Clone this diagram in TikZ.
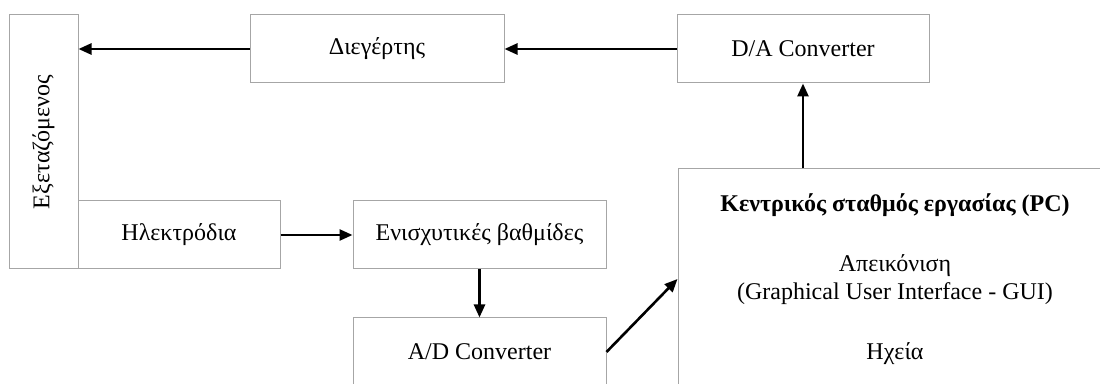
\documentclass[tikz,border=0pt]{standalone}
\usepackage{fontspec}
\setmainfont{Liberation Serif}
\usetikzlibrary{arrows.meta}

\begin{document}
\begin{tikzpicture}[x=0.5pt, y=-0.5pt, font=\fontsize{12}{14}\selectfont,
    block/.style={draw=gray!70, line width=0.5pt, align=center, inner sep=0pt, minimum height=34pt, minimum width=126.5pt},
    flow/.style={line width=1.3pt, -{Triangle[length=6.5pt, width=5.5pt]}}]
      \clip (0,0) rectangle (1100,384);

      \node[block, minimum width=34.5pt, minimum height=127pt] (E)   at ( 43.5, 142) {\rotatebox{90}{Εξεταζόμενος}};
      \node[block, minimum width=101pt]                         (H)   at (179,   235) {Ηλεκτρόδια};
      \node[block, minimum width=127pt]                         (X)   at (377,    49) {Διεγέρτης};
      \node[block, minimum width=126pt]                         (DA)  at (803,    49) {D/A Converter};
      \node[block]                                              (AMP) at (479.5, 235) {Ενισχυτικές βαθμίδες};
      \node[block]                                              (AD)  at (479.5, 352) {A/D Converter};
      \node[block, minimum width=217pt, minimum height=110pt]   (PC)  at (895,   279)
            {\textbf{Κεντρικός σταθμός εργασίας (PC)} \\[16pt]
             Απεικόνιση \\ (Graphical User Interface - GUI) \\[16pt]
             Ηχεία};

      \draw[flow] (X.west) -- (X.west -| E.east);
      \draw[flow] (DA.west) -- (X.east);
      \draw[flow] (H.east) -- (AMP.west);
      \draw[flow] (AMP.south) -- (AD.north);
      \draw[flow] (AD.east) -- (PC.west);
      \draw[flow] (DA.south |- PC.north) -- (DA.south);
\end{tikzpicture}
\end{document}
